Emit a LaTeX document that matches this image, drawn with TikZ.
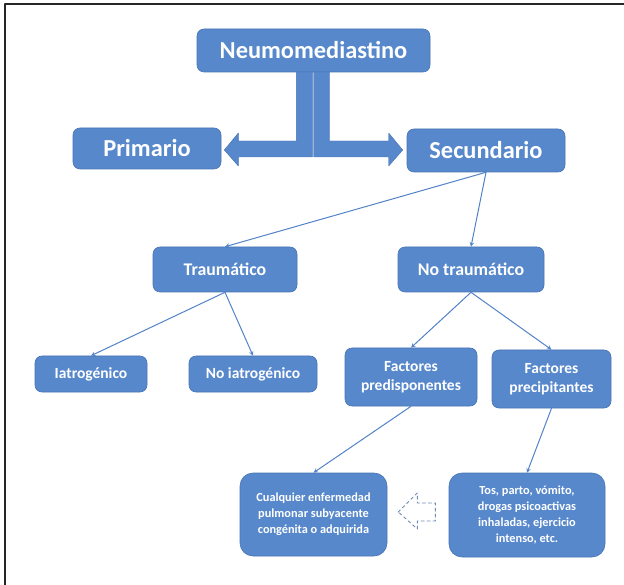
\documentclass[tikz,border=0pt]{standalone}
\usepackage{fontspec}
\setmainfont{Carlito}
\usepackage{tikz}
\usetikzlibrary{arrows}
\usepackage{color}

\definecolor{azul}{RGB}{87,136,203}
\definecolor{borde}{RGB}{72,116,182}
\definecolor{flecha}{RGB}{82,130,200}
\definecolor{hueco}{RGB}{112,140,180}

\begin{document}
\begin{tikzpicture}[line cap=round,line join=round,>=stealth,x=1pt,y=-1pt,
	caja/.style={draw=borde,fill=azul,rounded corners=7pt,inner sep=0pt,align=center,text=white,line width=0.6pt},
	cajagrande/.style={caja,rounded corners=13pt},
	nivel/.style={font=\bfseries\fontsize{24.4}{30}\selectfont},
	sub/.style={font=\bfseries\fontsize{17.8}{22}\selectfont},
	hoja/.style={font=\bfseries\fontsize{15.5}{19.5}\selectfont},
	texto/.style={font=\bfseries\fontsize{12.3}{16}\selectfont},
	rama/.style={->,draw=flecha,line width=1pt},
	bloque/.style={fill=azul,draw=borde,line width=0.4pt}]

		\useasboundingbox (0,0) rectangle (624,585);

		%marco:
		\draw[line width=2pt,color=black!85] (5,585)--(5,4)--(626,4);

		%cajas
		\node[caja,nivel,minimum width=233pt,minimum height=43pt] (neumo) at (313.5,50.5) {Neumomediastino};
		\node[caja,nivel,minimum width=148pt,minimum height=41pt] (prim) at (147,148.5) {Primario};
		\node[caja,nivel,minimum width=158pt,minimum height=43pt] (sec) at (486,150.5) {Secundario};

		\node[caja,sub,minimum width=144pt,minimum height=45pt] (trau) at (225,269.5) {Traumático};
		\node[caja,sub,minimum width=146pt,minimum height=45pt] (notrau) at (471,269.5) {No traumático};

		\node[caja,hoja,minimum width=112pt,minimum height=36pt] (iatro) at (91,374) {Iatrogénico};
		\node[caja,hoja,minimum width=128pt,minimum height=36pt] (noiatro) at (253,374) {No iatrogénico};
		\node[caja,hoja,minimum width=132pt,minimum height=58pt] (fpred) at (411,377) {Factores\\predisponentes};
		\node[caja,hoja,minimum width=119pt,minimum height=58pt] (fprec) at (551.5,379) {Factores\\precipitantes};

		\node[cajagrande,texto,minimum width=147pt,minimum height=83pt] (cual) at (313.5,514.5) {Cualquier enfermedad\\pulmonar subyacente\\congénita o adquirida};
		\node[cajagrande,texto,minimum width=156pt,minimum height=84pt] (tos) at (527,515) {Tos, parto, vómito,\\drogas psicoactivas\\inhaladas, ejercicio\\intenso, etc.};

		% flechas gruesas
		\coordinate (ltip) at ([xshift=3pt,yshift=-1.5pt]prim.east);
		\coordinate (rtip) at ([xshift=-4pt,yshift=0.5pt]sec.west);

		\fill[bloque] (ltip) -- ++(14,-17) -- ++(0,8) -- ++(58,0) -- ++(0,-69) -- ++(16,0)
			-- ++(0,85) -- ++(-74,0) -- ++(0,9) -- cycle;
		\fill[bloque] (rtip) -- ++(-14,-17) -- ++(0,8) -- ++(-59,0) -- ++(0,-69) -- ++(-16,0)
			-- ++(0,85) -- ++(75,0) -- ++(0,9) -- cycle;

		% ramas
		\draw[rama] (sec.south)--(trau.north);
		\draw[rama] (sec.south)--(notrau.north);
		\draw[rama] (trau.south)--(iatro.north);
		\draw[rama] (trau.south)--(noiatro.north);
		\draw[rama] (notrau.south)--(fpred.north);
		\draw[rama] (notrau.south)--(fprec.north);
		\draw[rama] (fpred.south)--(cual.north);
		\draw[rama] (fprec.south)--(tos.north);

		% flecha hueca
		\coordinate (dtip) at ([xshift=11pt,yshift=2.5pt]cual.east);
		\draw[dashed,color=hueco,fill=white,line width=0.9pt] (dtip) -- ++(19,-19) -- ++(0,10) -- ++(18,0)
			-- ++(0,18) -- ++(-18,0) -- ++(0,8) -- cycle;

	\end{tikzpicture}
\end{document}
